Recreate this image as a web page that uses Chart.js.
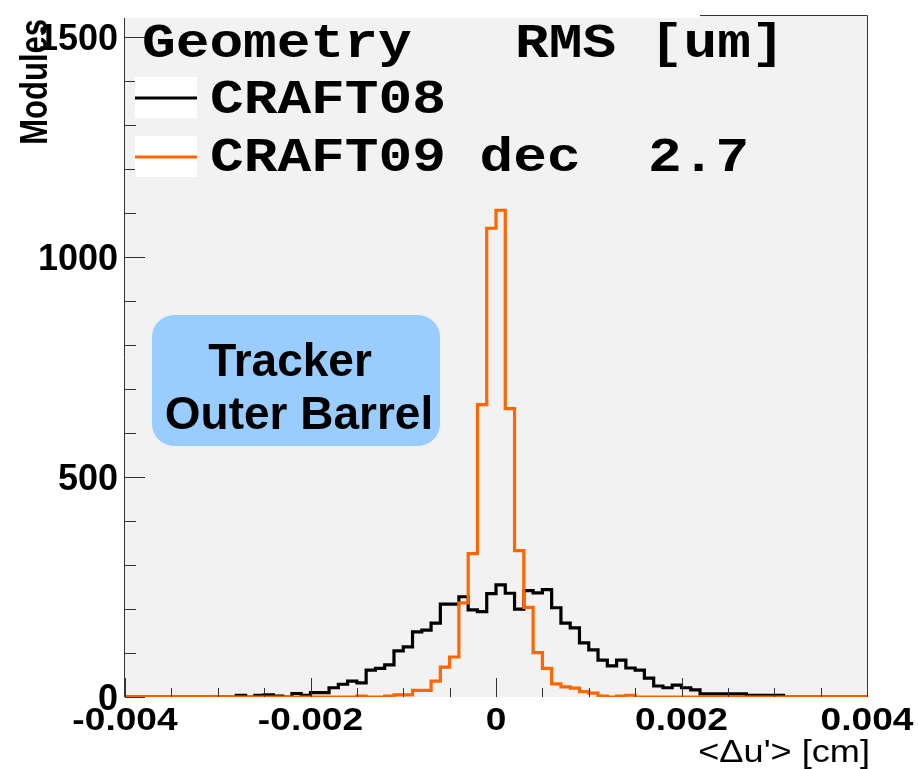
<!DOCTYPE html>
<html>
<head>
<meta charset="utf-8">
<script src="https://cdn.jsdelivr.net/npm/chart.js@4/dist/chart.umd.min.js"></script>
<style>
  html, body { margin: 0; padding: 0; background: #ffffff; }
  canvas { display: block; }
</style>
</head>
<body>
<canvas id="grafico" width="918" height="769"></canvas>
<script>
// histogram binning: 80 bins of 1 um from -40 um to +40 um
const binLow = -0.004;
const binWidth = 0.0001;

// counts per bin, CRAFT08 geometry
const craft08 = [
  0, 0, 0, 0, 0, 0, 0, 0, 0, 0,
  0, 0, 4, 0, 4, 5, 2, 0, 8, 4,
  10, 10, 21, 29, 36, 32, 61, 65, 73, 105,
  114, 148, 152, 168, 211, 211, 228, 198, 194, 235,
  255, 236, 200, 242, 237, 244, 203, 168, 157, 123,
  107, 84, 71, 84, 66, 61, 43, 25, 21, 27,
  21, 16, 7, 7, 7, 7, 7, 4, 4, 4,
  4, 0, 0, 0, 0, 0, 0, 0, 0, 0
];

// counts per bin, CRAFT09 dec geometry
const craft09 = [
  0, 0, 0, 0, 0, 0, 0, 0, 0, 0,
  0, 0, 0, 0, 0, 0, 0, 0, 0, 0,
  0, 0, 0, 0, 0, 2, 0, 0, 2, 5,
  5, 15, 15, 36, 68, 91, 214, 326, 665, 1066,
  1107, 656, 333, 204, 101, 65, 30, 23, 20, 12,
  9, 2, 0, 2, 4, 0, 0, 0, 0, 0,
  0, 0, 0, 0, 0, 0, 0, 0, 0, 0,
  0, 0, 0, 0, 0, 0, 0, 0, 0, 0
];

const yMajorTicks = [0, 500, 1000, 1500];
const yTickLabels = ['0', '500', '1000', '1500'];
const xMajorTicks = [-0.004, -0.002, 0, 0.002, 0.004];
const xTickLabels = ['-0.004', '-0.002', '0', '0.002', '0.004'];
const legendHeader = ['Geometry', 'RMS [um]'];
const legendNames = ['CRAFT08', 'CRAFT09 dec  2.7'];

const plotBg = '#f2f2f2';
const orange = '#ff6600';

// bin counts -> step points at the low edge of every bin, plus the upper edge
function toSteps(counts) {
  const pts = counts.map((c, i) => ({ x: binLow + i * binWidth, y: c }));
  pts.push({ x: binLow + counts.length * binWidth, y: counts[counts.length - 1] });
  return pts;
}

function text(ctx, str, x, y, font, align, sx) {
  ctx.save();
  ctx.translate(x, y);
  ctx.scale(sx || 1, 1);
  ctx.font = font;
  ctx.textAlign = align || 'left';
  ctx.textBaseline = 'alphabetic';
  ctx.fillStyle = '#000';
  ctx.fillText(str, 0, 0);
  ctx.restore();
}

// ROOT-like frame, ticks, labels, legend and the label box
const rootStyle = {
  id: 'rootStyle',
  beforeDatasetsDraw(chart) {
    const ctx = chart.ctx;
    const a = chart.chartArea;
    ctx.save();
    ctx.fillStyle = plotBg;
    ctx.fillRect(a.left - 1, a.top, a.right - a.left + 2, a.bottom - a.top);
    // legend pave has no border and hides the upper frame line on the left
    ctx.fillStyle = '#ffffff';
    ctx.fillRect(a.left - 1, 0, 700 - a.left + 1, 18);

    // label box
    ctx.fillStyle = '#99ccff';
    ctx.beginPath();
    ctx.roundRect(152, 315, 288, 131, 22);
    ctx.fill();
    ctx.restore();
    text(ctx, 'Tracker', 290, 376, 'bold 46px "Liberation Sans", Arial, sans-serif', 'center');
    text(ctx, 'Outer Barrel', 299, 429, 'bold 46px "Liberation Sans", Arial, sans-serif', 'center');
  },
  afterDatasetsDraw(chart) {
    const ctx = chart.ctx;
    const a = chart.chartArea;
    const xs = chart.scales.x;
    const ys = chart.scales.y;

    ctx.save();
    ctx.strokeStyle = '#333';
    ctx.lineWidth = 1;
    ctx.beginPath();
    ctx.moveTo(a.left - 0.5, 18);
    ctx.lineTo(a.left - 0.5, a.bottom);
    ctx.moveTo(700, a.top + 0.5);
    ctx.lineTo(a.right + 0.5, a.top + 0.5);
    ctx.lineTo(a.right + 0.5, a.bottom);
    ctx.stroke();

    // y ticks: major every 500, minor every 100
    ctx.beginPath();
    for (let v = 0; v <= 1500; v += 100) {
      const py = Math.round(ys.getPixelForValue(v)) + 0.5;
      const len = (v % 500 === 0) ? 20 : 11;
      ctx.moveTo(a.left, py);
      ctx.lineTo(a.left + len, py);
    }
    // x ticks: major every 0.002, minor every 0.0005
    for (let i = 0; i <= 16; i++) {
      const v = -0.004 + i * 0.0005;
      const px = Math.round(xs.getPixelForValue(v)) + 0.5;
      const len = (i % 4 === 0) ? 19 : 9;
      ctx.moveTo(px, a.bottom);
      ctx.lineTo(px, a.bottom - len);
    }
    ctx.stroke();
    ctx.restore();

    // tick labels
    yMajorTicks.forEach((v, i) => {
      const py = ys.getPixelForValue(v);
      text(ctx, yTickLabels[i], 118, py + 13, 'bold 36px "Liberation Sans", Arial, sans-serif', 'right');
    });
    xMajorTicks.forEach((v, i) => {
      const px = xs.getPixelForValue(v);
      text(ctx, xTickLabels[i], px, 730, 'bold 32px "Liberation Sans", Arial, sans-serif', 'center', 1.16);
    });

    // axis titles
    text(ctx, '<\u0394u\'> [cm]', 870, 762, '32px "Liberation Sans", Arial, sans-serif', 'right', 1.13);
    ctx.save();
    ctx.translate(47, 19);
    ctx.rotate(-Math.PI / 2);
    ctx.scale(1, 1.28);
    ctx.font = 'bold 31px "Liberation Sans", Arial, sans-serif';
    ctx.textAlign = 'right';
    ctx.fillStyle = '#000';
    ctx.fillText('Modules', 0, 0);
    ctx.restore();

    // legend
    const mono = 'bold 48px "Liberation Mono", "DejaVu Sans Mono", monospace';
    text(ctx, legendHeader[0], 142, 57, mono, 'left', 1.17);
    text(ctx, legendHeader[1], 515, 57, mono, 'left', 1.17);
    const rows = [
      { y: 98, color: '#000', base: 113 },
      { y: 157, color: orange, base: 171 }
    ];
    rows.forEach((r, i) => {
      ctx.save();
      ctx.fillStyle = '#ffffff';
      ctx.fillRect(135, r.y - 21, 62, 41);
      ctx.strokeStyle = r.color;
      ctx.lineWidth = 3;
      ctx.beginPath();
      ctx.moveTo(135, r.y);
      ctx.lineTo(197, r.y);
      ctx.stroke();
      ctx.restore();
      text(ctx, legendNames[i], 210, r.base, mono, 'left', 1.17);
    });
  }
};

const ctx = document.getElementById('grafico').getContext('2d');
const grafico = new Chart(ctx, {
  type: 'line',
  data: {
    datasets: [
      {
        label: legendNames[1],
        data: toSteps(craft09),
        borderColor: orange,
        borderWidth: 3.2,
        stepped: true,
        pointRadius: 0,
        fill: false,
        borderJoinStyle: 'miter'
      },
      {
        label: legendNames[0],
        data: toSteps(craft08),
        borderColor: '#000000',
        borderWidth: 3.2,
        stepped: true,
        pointRadius: 0,
        fill: false,
        borderJoinStyle: 'miter'
      }
    ]
  },
  options: {
    responsive: false,
    animation: false,
    devicePixelRatio: 1,
    layout: { padding: { left: 125, right: 51, top: 15, bottom: 72 } },
    scales: {
      x: { type: 'linear', min: -0.004, max: 0.004, display: false },
      y: { type: 'linear', min: 0, max: 1551, display: false }
    },
    plugins: {
      legend: { display: false },
      tooltip: { enabled: false }
    }
  },
  plugins: [rootStyle]
});
</script>
</body>
</html>
